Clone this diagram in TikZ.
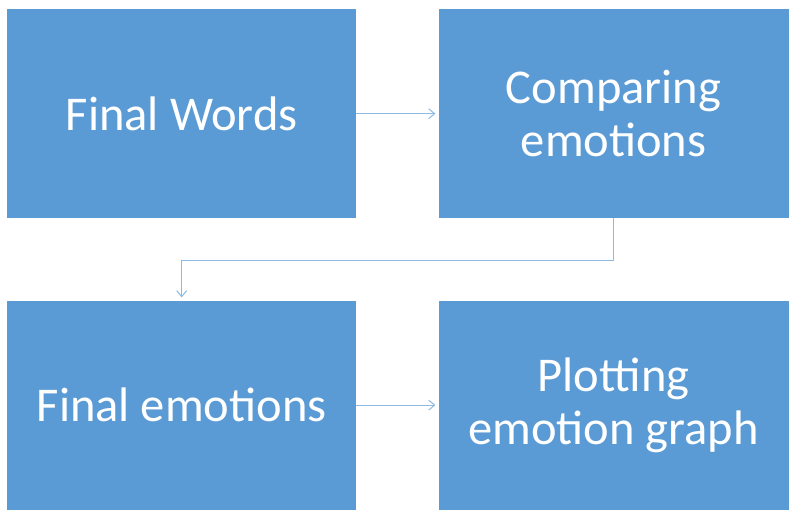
\documentclass[tikz,border=0pt]{standalone}
\usepackage{fontspec}
\setmainfont{Carlito}
\usetikzlibrary{positioning,arrows.meta}
\definecolor{boxblue}{HTML}{5B9BD5}
\definecolor{linkblue}{HTML}{8DB9E2}

\begin{document}
\begin{tikzpicture}[x=1pt,y=1pt,
  stage/.style={fill=boxblue,text=white,minimum width=349pt,minimum height=209pt,
    inner sep=0pt,align=center,font=\fontsize{48.5}{53}\selectfont},
  link/.style={draw=linkblue,line width=1pt,-{Straight Barb[length=6pt,width=10pt]},shorten >=3pt},
  node distance=82pt]
\useasboundingbox (0,0) rectangle (798,-519);
\node[stage,anchor=north west] (words) at (7,-9){Final Words};
\node[stage,right=of words,minimum width=350pt] (compare){Comparing\\emotions};
\node[stage,below=of words] (final){Final emotions};
\node[stage,right=of final,minimum width=350pt] (plot){Plotting\\emotion graph};
\draw[link] (words) -- (compare);
\draw[link] (final) -- (plot);
\draw[link] (compare.south) -- ++(0,-42) -| (final.north);
\end{tikzpicture}
\end{document}
